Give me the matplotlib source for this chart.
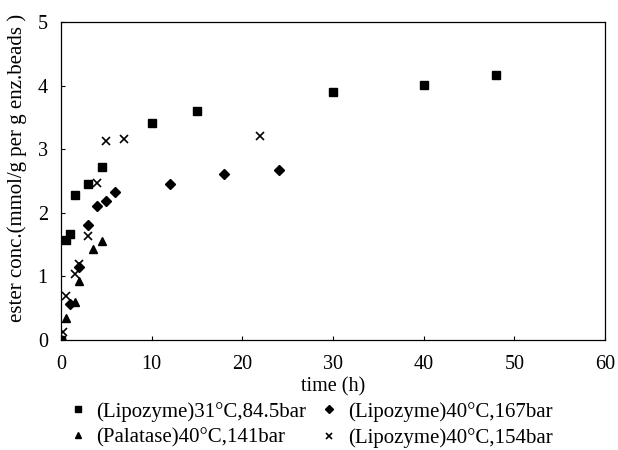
import matplotlib
matplotlib.use("Agg")
import matplotlib.pyplot as plt

# Data
sq_x = [0, 0.5, 1.0, 1.5, 3.0, 4.5, 10, 15, 30, 40, 48]
sq_y = [0, 1.57, 1.67, 2.28, 2.45, 2.72, 3.41, 3.60, 3.90, 4.01, 4.16]

di_x = [0, 1.0, 2.0, 3.0, 4.0, 5.0, 6.0, 12, 18, 24]
di_y = [0, 0.57, 1.15, 1.81, 2.11, 2.19, 2.33, 2.45, 2.61, 2.68]

tr_x = [0, 0.5, 1.5, 2.0, 3.5, 4.5]
tr_y = [0, 0.34, 0.60, 0.93, 1.43, 1.56]

cr_x = [0.25, 0.5, 1.5, 2.0, 3.0, 4.0, 5.0, 7.0, 22]
cr_y = [0.12, 0.69, 1.03, 1.19, 1.64, 2.47, 3.13, 3.16, 3.20]

labels = ["(Lipozyme)31°C,84.5bar", "(Palatase)40°C,141bar",
          "(Lipozyme)40°C,167bar", "(Lipozyme)40°C,154bar"]
x_ticks = [0, 10, 20, 30, 40, 50, 60]
y_ticks = [0, 1, 2, 3, 4, 5]

plt.rcParams['font.family'] = ['Liberation Serif', 'DejaVu Serif']

fig = plt.figure(figsize=(6.18, 4.5), dpi=100)
ax = fig.add_axes([61/618, 110/450, 544/618, 318/450])

h1, = ax.plot(sq_x, sq_y, 's', color='black', markersize=5.2, linestyle='none', label=labels[0])
h2, = ax.plot(tr_x, tr_y, '^', color='black', markersize=6, linestyle='none', label=labels[1])
h3, = ax.plot(di_x, di_y, 'D', color='black', markersize=5, linestyle='none', label=labels[2])
h4, = ax.plot(cr_x, cr_y, 'x', color='black', markersize=6, markeredgewidth=1.2, linestyle='none', label=labels[3])

ax.set_xlim(0, 60)
ax.set_ylim(0, 5)
ax.set_xticks(x_ticks)
ax.set_yticks(y_ticks)
ax.tick_params(direction='in', length=3, width=0.8, labelsize=14.5, top=False, right=False)
ax.tick_params(axis='x', pad=11)
ax.tick_params(axis='y', pad=9.5)
for s in ax.spines.values():
    s.set_linewidth(0.9)
ax.set_xlabel("time (h)", fontsize=14.5, labelpad=2)
ax.set_ylabel("ester conc.(mmol/g per g enz.beads )", fontsize=15)
ax.yaxis.set_label_coords(-0.062, 0.54)

fig.legend(handles=[h1, h2, h3, h4], loc='center', bbox_to_anchor=(311/618, 0.056),
           ncol=2, frameon=False, fontsize=15, markerscale=0.75,
           handlelength=0.8, handletextpad=0.5, columnspacing=0.7, labelspacing=0.3,
           borderpad=0.1)

fig.savefig("out.png", dpi=100)
